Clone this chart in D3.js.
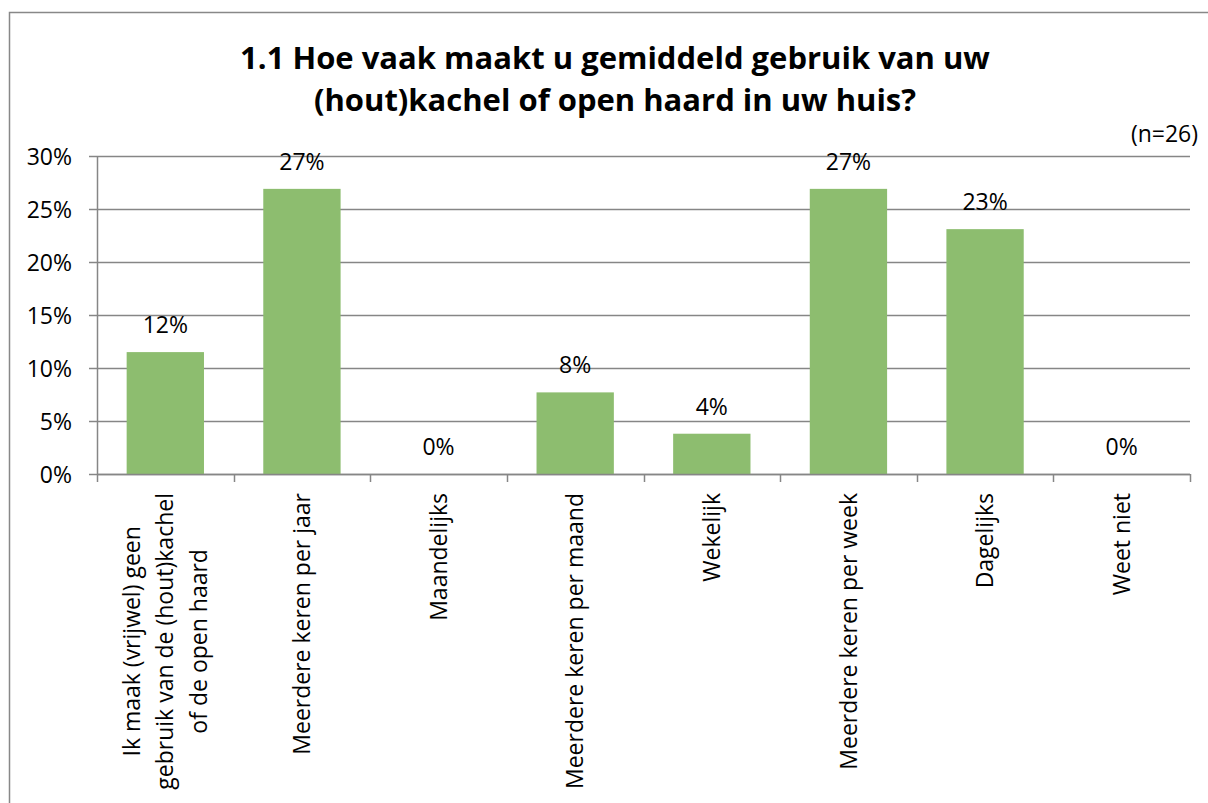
<!DOCTYPE html>
<html><head><meta charset="utf-8">
<script src="https://cdn.jsdelivr.net/npm/d3@7"></script>
<style>
body{margin:0;background:#fff;}
svg{display:block;font-family:"Open Sans",sans-serif;}
</style></head>
<body>
<svg id="c" width="1208" height="803"></svg>
<script>
const categories = [
  ["Ik maak (vrijwel) geen","gebruik van de (hout)kachel","of de open haard"],
  ["Meerdere keren per jaar"],
  ["Maandelijks"],
  ["Meerdere keren per maand"],
  ["Wekelijk"],
  ["Meerdere keren per week"],
  ["Dagelijks"],
  ["Weet niet"]
];
const values = [0.115, 0.269, 0, 0.077, 0.038, 0.269, 0.231, 0];
const valueLabels = ["12%","27%","0%","8%","4%","27%","23%","0%"];
const yTicks = [0, 0.05, 0.10, 0.15, 0.20, 0.25, 0.30];
const titleLines = ["1.1 Hoe vaak maakt u gemiddeld gebruik van uw","(hout)kachel of open haard in uw huis?"];
const note = "(n=26)";

const svg = d3.select("#c");
const gridColor = "#868686";
const barColor = "#8DBD6F";
const fs = 23;

// outer frame
svg.append("rect").attr("x",9.5).attr("y",12.5).attr("width",1210).attr("height",800)
  .attr("fill","#fff").attr("stroke","#888").attr("stroke-width",1.5);

const pL = 97, pR = 1190, pT = 156, pB = 474;
const x = d3.scaleBand().domain(d3.range(categories.length)).range([pL,pR]).padding(0);
const y = d3.scaleLinear().domain([0,0.30]).range([pB,pT]);

// gridlines
svg.append("g").selectAll("line").data(yTicks).join("line")
  .attr("x1",pL-8).attr("x2",pR).attr("y1",d=>Math.round(y(d))+0.5).attr("y2",d=>Math.round(y(d))+0.5)
  .attr("stroke",gridColor).attr("stroke-width",1.5);

// y axis
const yAxis = d3.axisLeft(y).tickValues(yTicks).tickFormat(d3.format(".0%")).tickSize(0).tickPadding(25);
const ya = svg.append("g").attr("transform",`translate(${pL},0)`).call(yAxis);
ya.select(".domain").attr("stroke",gridColor).attr("stroke-width",1.5);
ya.selectAll("text").attr("font-size",fs).attr("fill","#000").attr("font-family","Open Sans").attr("dy","0.35em");

// bars
const bw = x.bandwidth()*0.566;
svg.append("g").selectAll("rect").data(values).join("rect")
  .attr("x",(d,i)=>x(i)+(x.bandwidth()-bw)/2).attr("width",bw)
  .attr("y",d=>y(d)).attr("height",d=>y(0)-y(d)).attr("fill",barColor);

// x axis line and ticks
svg.append("line").attr("x1",pL).attr("x2",pR).attr("y1",pB+0.5).attr("y2",pB+0.5)
  .attr("stroke",gridColor).attr("stroke-width",1.5);
const bounds = d3.range(categories.length+1).map(i=> i<categories.length ? x(i) : pR);
svg.append("g").selectAll("line").data(bounds).join("line")
  .attr("x1",d=>Math.round(d)+0.5).attr("x2",d=>Math.round(d)+0.5).attr("y1",pB).attr("y2",pB+8)
  .attr("stroke",gridColor).attr("stroke-width",1.5);

// value labels
svg.append("g").selectAll("text").data(values).join("text")
  .attr("x",(d,i)=>x(i)+x.bandwidth()/2).attr("y",d=>y(d)-19)
  .attr("text-anchor","middle").attr("font-size",fs).attr("fill","#000")
  .text((d,i)=>valueLabels[i]);

// category labels rotated
const lh = 33.5;
categories.forEach((lines,i)=>{
  const cx = x(i)+x.bandwidth()/2;
  const g = svg.append("g").attr("transform",`translate(${cx},${pB+19}) rotate(-90)`);
  const n = lines.length;
  const t = g.append("text").attr("font-size",fs).attr("fill","#000");
  lines.forEach((l,j)=>{
    t.append("tspan").attr("x",0).attr("y",(j-(n-1)/2)*lh).attr("dy","0.35em").text(l);
  });
  const widths = [];
  t.selectAll("tspan").each(function(){widths.push(this.getComputedTextLength());});
  const maxW = d3.max(widths);
  t.attr("text-anchor","middle").selectAll("tspan").attr("x",-maxW/2);
});

// title
svg.append("g").selectAll("text").data(titleLines).join("text")
  .attr("x",615).attr("y",(d,i)=>69+i*42)
  .attr("text-anchor","middle").attr("font-size",31).attr("font-weight","bold").attr("fill","#000")
  .text(d=>d);

svg.append("text").attr("x",1198).attr("y",142).attr("text-anchor","end")
  .attr("font-size",fs).attr("fill","#000").text(note);
</script>
</body></html>
